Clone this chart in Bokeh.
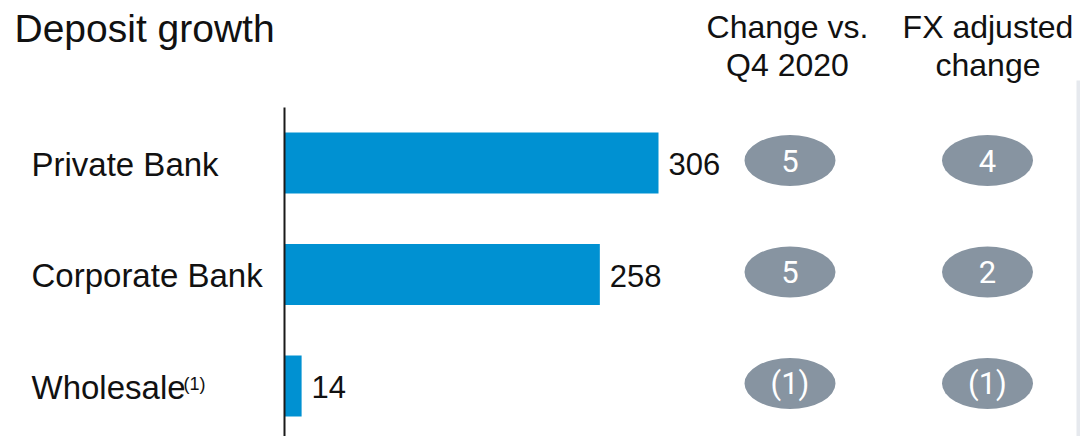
from bokeh.plotting import figure
from bokeh.models import Range1d, ColumnDataSource
from bokeh.core.properties import value
from bokeh.embed import file_html
from bokeh.resources import INLINE

# ---- data ----
categories = ["Private Bank", "Corporate Bank", "Wholesale"]
footnotes = ["", "", "(1)"]
deposits = [306, 258, 14]
change_vs_q4 = ["5", "5", "(1)"]
fx_adjusted = ["4", "2", "(1)"]
title_text = "Deposit growth"
header_change = ["Change vs.", "Q4 2020"]
header_fx = ["FX adjusted", "change"]

# ---- layout helpers (canvas pixel -> data) ----
W, H = 1080, 436
X0 = 284.0          # canvas x of value 0
SX = 374.0 / 306.0  # px per unit
Y0 = 162.5          # canvas y of first row centre
SY = 111.5          # px per row
BL = 0.347          # baseline correction (fraction of font size)


def dx(px):
    return (px - X0) / SX


def dy(py):
    return (py - Y0) / SY


def base(py, fs):
    """data y for a text whose alphabetic baseline should sit at canvas y py"""
    return dy(py - BL * fs)


p = figure(width=W, height=H, output_backend="svg", toolbar_location=None,
           x_range=Range1d(dx(0), dx(W)),
           y_range=Range1d(dy(H), dy(0)),
           min_border=0, tools="")
p.axis.visible = False
p.grid.visible = False
p.outline_line_color = None
p.background_fill_color = "white"
p.border_fill_color = "white"

rows = list(range(len(categories)))
FONT = value("Liberation Sans")
FS_VAL, FS_CAT, FS_NUM, FS_TITLE, FS_HEAD = 31, 33, 31, 39, 32

# light strip at right edge
p.quad(left=[dx(1076)], right=[dx(1080)], top=[dy(80)], bottom=[dy(436)],
       fill_color="#e6e9ee", line_color=None)

src = ColumnDataSource(dict(
    y=rows, v=deposits, cat=categories,
    lab=[str(d) for d in deposits],
    lab_y=[r + (11.8 - BL * FS_VAL) / SY for r in rows],
    cat_y=[r + (12.5 - BL * FS_CAT) / SY for r in rows],
    chg=change_vs_q4, fx=fx_adjusted,
    ell_y=[r - 2.5 / SY for r in rows],
    num_y=[r + (8.5 - BL * FS_NUM) / SY for r in rows],
))

# bars
p.hbar(y="y", right="v", left=0, height=61 / SY, source=src,
       fill_color="#0091d2", line_color=None)

# vertical axis line
p.segment(x0=[0], y0=[dy(107)], x1=[0], y1=[dy(436)],
          line_color="#1a1a1a", line_width=2)

# value labels
p.text(x="v", y="lab_y", text="lab", source=src, x_offset=10,
       text_font=FONT, text_font_size=f"{FS_VAL}px", text_color="#111111",
       text_align="left", text_baseline="alphabetic")

# category labels
p.text(x=dx(31), y="cat_y", text="cat", source=src,
       text_font=FONT, text_font_size=f"{FS_CAT}px", text_color="#111111",
       text_align="left", text_baseline="alphabetic")
# footnote superscript
fn_rows = [r for r, f in zip(rows, footnotes) if f]
p.text(x=[dx(183)] * len(fn_rows),
       y=[r + (4.5 - BL * 18) / SY for r in fn_rows],
       text=[f for f in footnotes if f],
       text_font=FONT, text_font_size="18px", text_color="#111111",
       text_align="left", text_baseline="alphabetic")

# ellipses with change values
for cx, col in ((789.5, "chg"), (987.0, "fx")):
    p.ellipse(x=dx(cx), y="ell_y", width=91 / SX, height=51 / SY, source=src,
              fill_color="#8794a1", line_color=None)
    p.text(x=dx(cx), y="num_y", text=col, source=src,
           text_font=value("Roboto"), text_font_size=f"{FS_NUM}px", text_color="white",
           text_align="center", text_baseline="alphabetic")

# title
p.text(x=[dx(14)], y=[base(42, FS_TITLE)], text=[title_text],
       text_font=FONT, text_font_size=f"{FS_TITLE}px", text_color="#111111",
       text_align="left", text_baseline="alphabetic")

# column headers
for cx, lines in ((787.0, header_change), (987.5, header_fx)):
    p.text(x=[dx(cx)] * len(lines),
           y=[base(38, FS_HEAD), base(76, FS_HEAD)][:len(lines)], text=lines,
           text_font=FONT, text_font_size=f"{FS_HEAD}px", text_color="#111111",
           text_align="center", text_baseline="alphabetic")

open("out.html", "w").write(file_html(p, INLINE))
